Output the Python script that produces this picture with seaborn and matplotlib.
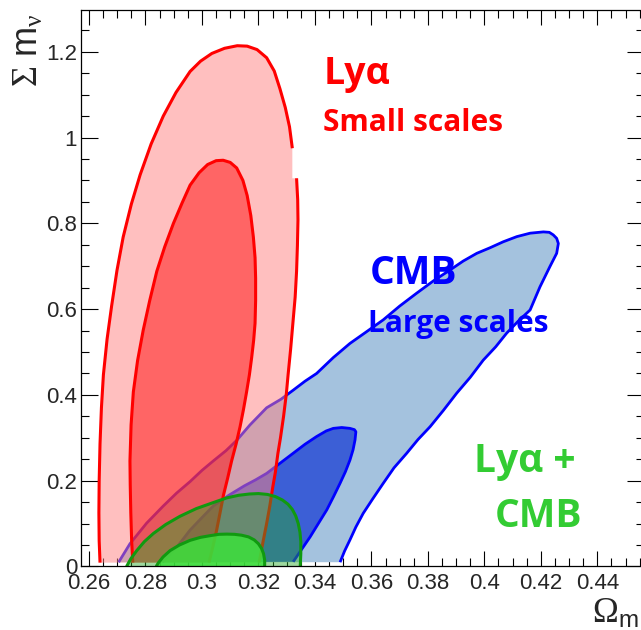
import numpy as np
import matplotlib
matplotlib.use("Agg")
import matplotlib.pyplot as plt
from matplotlib.ticker import MultipleLocator, FuncFormatter
import seaborn as sns
import pandas as pd

# ---------------------------------------------------------------------------
# Confidence contours in the (Omega_m, sum m_nu) plane
# ---------------------------------------------------------------------------
# Lyman-alpha, 95% region: upper arc (up to the masked corner) and lower arc
lya95_upper_x = [0.2639, 0.2636, 0.2635, 0.2636, 0.2639, 0.2644, 0.2651, 0.2664,
                 0.2680, 0.2699, 0.2721, 0.2750, 0.2781, 0.2820, 0.2863, 0.2908,
                 0.2958, 0.2995, 0.3035, 0.3080, 0.3125, 0.3160, 0.3195, 0.3229,
                 0.3256, 0.3276, 0.3295, 0.3310, 0.3320]
lya95_upper_y = [0.009, 0.060, 0.125, 0.200, 0.286, 0.370, 0.447, 0.530,
                 0.607, 0.690, 0.768, 0.845, 0.913, 0.985, 1.050, 1.105,
                 1.154, 1.178, 1.196, 1.208, 1.214, 1.213, 1.205, 1.186,
                 1.155, 1.114, 1.070, 1.025, 0.975]
lya95_lower_x = [0.3335, 0.3339, 0.3340, 0.3338, 0.3335, 0.3330, 0.3323, 0.3314,
                 0.3305, 0.3299, 0.3289, 0.3278, 0.3269, 0.3260, 0.3251, 0.3240,
                 0.3229, 0.3217, 0.3204, 0.3202]
lya95_lower_y = [0.905, 0.855, 0.808, 0.748, 0.688, 0.628, 0.575, 0.507,
                 0.447, 0.404, 0.350, 0.300, 0.264, 0.220, 0.186, 0.140,
                 0.100, 0.060, 0.015, 0.009]

# Lyman-alpha, 68% region
lya68_x = [0.2755, 0.2751, 0.2748, 0.2746, 0.2745, 0.2749, 0.2757, 0.2772,
           0.2792, 0.2815, 0.2840, 0.2868, 0.2899, 0.2930, 0.2958, 0.2990,
           0.3020, 0.3050, 0.3075, 0.3100, 0.3123, 0.3145, 0.3160, 0.3173,
           0.3182, 0.3188, 0.3190, 0.3190, 0.3188, 0.3183, 0.3176, 0.3168,
           0.3158, 0.3147, 0.3135, 0.3121, 0.3105, 0.3091, 0.3076, 0.3064,
           0.3052, 0.3039, 0.3025]
lya68_y = [0.009, 0.060, 0.125, 0.190, 0.246, 0.330, 0.407, 0.480,
           0.551, 0.620, 0.688, 0.745, 0.800, 0.848, 0.889, 0.918,
           0.937, 0.946, 0.947, 0.942, 0.929, 0.900, 0.865, 0.818,
           0.768, 0.720, 0.672, 0.620, 0.567, 0.527, 0.487, 0.447,
           0.407, 0.366, 0.326, 0.286, 0.246, 0.206, 0.166, 0.125,
           0.085, 0.047, 0.009]

# CMB, 95% region
cmb95_x = [0.2705, 0.2745, 0.2804, 0.2863, 0.2910, 0.2958, 0.3000, 0.3040,
           0.3085, 0.3123, 0.3170, 0.3229, 0.3280, 0.3323, 0.3365, 0.3406,
           0.3465, 0.3524, 0.3580, 0.3642, 0.3700, 0.3760, 0.3820, 0.3878,
           0.3925, 0.3973, 0.4020, 0.4067, 0.4115, 0.4162, 0.4209, 0.4230,
           0.4244, 0.4256, 0.4262, 0.4256, 0.4232, 0.4197, 0.4162, 0.4120,
           0.4079, 0.4040, 0.3996, 0.3950, 0.3902, 0.3855, 0.3808, 0.3765,
           0.3725, 0.3680, 0.3642, 0.3605, 0.3571, 0.3545, 0.3524, 0.3505,
           0.3489]
cmb95_y = [0.010, 0.053, 0.101, 0.141, 0.171, 0.198, 0.224, 0.246,
           0.270, 0.294, 0.330, 0.370, 0.390, 0.411, 0.432, 0.450,
           0.487, 0.520, 0.546, 0.575, 0.607, 0.637, 0.666, 0.691,
           0.712, 0.730, 0.743, 0.757, 0.769, 0.777, 0.780, 0.779,
           0.773, 0.765, 0.753, 0.730, 0.699, 0.652, 0.598, 0.572,
           0.544, 0.512, 0.481, 0.441, 0.404, 0.364, 0.326, 0.296,
           0.264, 0.230, 0.194, 0.158, 0.124, 0.092, 0.062, 0.036,
           0.010]

# CMB, 68% region
cmb68_x = [0.2860, 0.2875, 0.2911, 0.2958, 0.3000, 0.3040, 0.3095, 0.3150,
           0.3190, 0.3229, 0.3275, 0.3323, 0.3365, 0.3406, 0.3440, 0.3465,
           0.3495, 0.3524, 0.3540, 0.3545, 0.3542, 0.3535, 0.3524, 0.3508,
           0.3489, 0.3466, 0.3442, 0.3412, 0.3383, 0.3353, 0.3323]
cmb68_y = [0.010, 0.020, 0.045, 0.085, 0.114, 0.141, 0.166, 0.188,
           0.202, 0.217, 0.240, 0.264, 0.285, 0.303, 0.316, 0.322,
           0.324, 0.322, 0.319, 0.314, 0.295, 0.272, 0.248, 0.221,
           0.194, 0.163, 0.132, 0.100, 0.069, 0.040, 0.011]

# Combined Lyman-alpha + CMB, 95% and 68% regions
comb95_x = [0.2733, 0.2748, 0.2769, 0.2796, 0.2828, 0.2872, 0.2922, 0.2980,
            0.3040, 0.3088, 0.3130, 0.3168, 0.3200, 0.3232, 0.3260, 0.3285,
            0.3305, 0.3320, 0.3332, 0.3341, 0.3347, 0.3350, 0.3350, 0.3348]
comb95_y = [0.000, 0.018, 0.037, 0.058, 0.077, 0.098, 0.117, 0.135,
            0.149, 0.160, 0.166, 0.169, 0.170, 0.168, 0.163, 0.155,
            0.145, 0.133, 0.118, 0.100, 0.080, 0.058, 0.030, 0.000]
comb68_x = [0.2838, 0.2845, 0.2862, 0.2887, 0.2920, 0.2958, 0.2995, 0.3030,
            0.3060, 0.3088, 0.3115, 0.3140, 0.3165, 0.3185, 0.3200, 0.3211,
            0.3218, 0.3222, 0.3222]
comb68_y = [0.000, 0.008, 0.022, 0.037, 0.050, 0.061, 0.068, 0.072,
            0.075, 0.0755, 0.075, 0.073, 0.069, 0.062, 0.053, 0.042,
            0.030, 0.015, 0.000]

x_ticks = [0.26, 0.28, 0.30, 0.32, 0.34, 0.36, 0.38, 0.40, 0.42, 0.44]
y_ticks = [0.0, 0.2, 0.4, 0.6, 0.8, 1.0, 1.2]

# ---------------------------------------------------------------------------
sns.set_theme(style="ticks")
plt.rcParams["font.family"] = ["Liberation Sans", "DejaVu Sans"]
plt.rcParams["mathtext.fontset"] = "custom"
plt.rcParams["mathtext.rm"] = "Liberation Serif"
plt.rcParams["mathtext.it"] = "Liberation Serif"
plt.rcParams["mathtext.sf"] = "Liberation Sans"

fig = plt.figure(figsize=(6.41, 6.30), dpi=100)
ax = fig.add_axes([0.1259, 0.1008, 0.8783, 0.8841])
ax.set_xlim(0.25706, 0.45642)
ax.set_ylim(0.0, 1.2984)

RED = "#FF0000"
BLUE = "#0000FF"
GREEN_LINE = "#109A10"


def outline(xs, ys, color, lw, z):
    df = pd.DataFrame({"x": xs, "y": ys})
    sns.lineplot(data=df, x="x", y="y", sort=False, estimator=None, ax=ax,
                 color=color, lw=lw, zorder=z,
                 solid_capstyle="butt", solid_joinstyle="round")


# CMB contours (underneath)
ax.fill(cmb95_x, cmb95_y, color="#A4C2DE", lw=0, zorder=1)
outline(cmb95_x, cmb95_y, BLUE, 2.0, 1.1)
ax.fill(cmb68_x, cmb68_y, color="#3C5FD6", lw=0, zorder=1.2)
outline(cmb68_x, cmb68_y, BLUE, 2.0, 1.3)

# Lyman-alpha contours, translucent over the CMB ones
lya95_fill_x = np.r_[lya95_upper_x, lya95_upper_x[-1], lya95_lower_x]
lya95_fill_y = np.r_[lya95_upper_y, lya95_lower_y[0], lya95_lower_y]
ax.fill(lya95_fill_x, lya95_fill_y, color="#FF8181", alpha=0.5, lw=0, zorder=1.5)
ax.fill(lya68_x, lya68_y, color="#FF0C0C", alpha=0.5, lw=0, zorder=1.6)
outline(lya95_upper_x, lya95_upper_y, RED, 2.2, 1.7)
outline(lya95_lower_x, lya95_lower_y, RED, 2.2, 1.7)
outline(lya68_x, lya68_y, RED, 2.2, 1.7)

# Combined contours
ax.fill(comb95_x, comb95_y, color="#28AA28", alpha=0.45, lw=0, zorder=1.8)
ax.fill(comb68_x, comb68_y, color="#3CE13C", alpha=0.85, lw=0, zorder=1.9)
outline(comb95_x, comb95_y, GREEN_LINE, 2.2, 2.0)
outline(comb68_x, comb68_y, GREEN_LINE, 2.2, 2.0)

# Frame with inward ticks on all four sides
for side in ["top", "right", "bottom", "left"]:
    ax.spines[side].set_visible(True)
    ax.spines[side].set_linewidth(0.9)
    ax.spines[side].set_color("black")
    ax.spines[side].set_zorder(5)
ax.set_xticks(x_ticks)
ax.set_yticks(y_ticks)
ax.xaxis.set_minor_locator(MultipleLocator(0.005))
ax.yaxis.set_minor_locator(MultipleLocator(0.05))
ax.tick_params(which="both", direction="in", top=True, right=True,
               color="black", width=0.8)
ax.tick_params(which="major", axis="x", length=11)
ax.tick_params(which="major", axis="y", length=12)
ax.tick_params(which="minor", length=5.8)
ax.tick_params(axis="x", labelsize=16, pad=5)
ax.tick_params(axis="y", labelsize=16, pad=2.6)
fmt = FuncFormatter(lambda v, p: f"{v:.2f}".rstrip("0").rstrip(".") if v != 0 else "0")
ax.xaxis.set_major_formatter(fmt)
ax.yaxis.set_major_formatter(fmt)
ax.set_xlabel("")
ax.set_ylabel("")
ax.grid(False)

# Axis titles
fig.text(592 / 641, 1 - 623 / 630, r"$\Omega_{\mathsf{m}}$", fontsize=25,
         ha="left", va="baseline")
fig.text(46 / 641, 1 - 13 / 630, r"$\Sigma\ \mathsf{m}_{\nu}$", fontsize=26,
         rotation=90, ha="right", va="top")

# Annotations
bold = dict(fontweight="bold", family=["Open Sans", "DejaVu Sans"])
ax.text(0.3430, 1.125, "Ly\u03b1", color=RED, fontsize=27, **bold)
ax.text(0.3430, 1.015, "Small scales", color=RED, fontsize=21.5, **bold)
ax.text(0.3593, 0.659, "CMB", color=BLUE, fontsize=28, **bold)
ax.text(0.3587, 0.547, "Large scales", color=BLUE, fontsize=21.5, **bold)
ax.text(0.3962, 0.221, "Ly\u03b1 +", color="#33CC33", fontsize=28, **bold)
ax.text(0.4037, 0.093, "CMB", color="#33CC33", fontsize=28, **bold)

fig.savefig("out.png", dpi=100)
